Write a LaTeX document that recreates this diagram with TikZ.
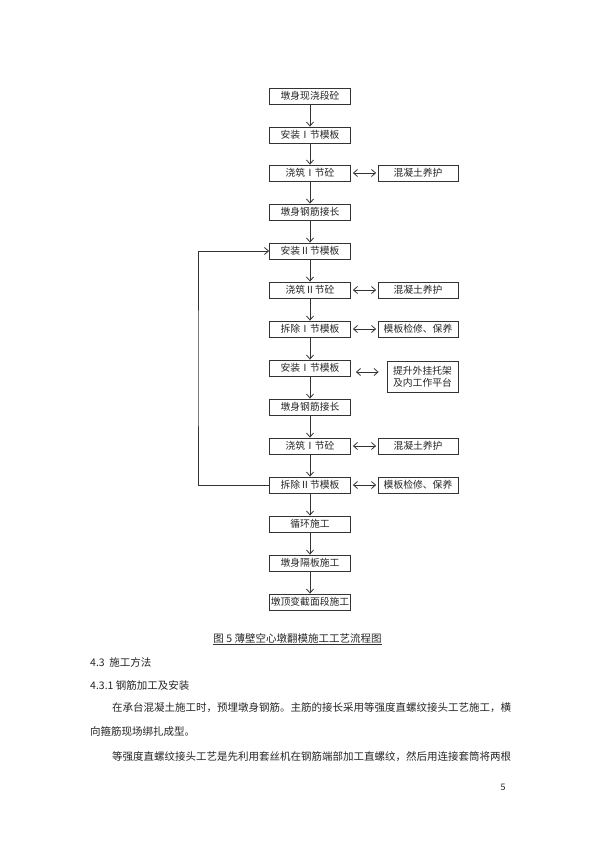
\documentclass[tikz,border=0pt]{standalone}
\usepackage{fontspec}
\newfontfamily\cjk{Noto Sans CJK SC}
\usetikzlibrary{arrows.meta}
\begin{document}
\begin{tikzpicture}[x=1pt,y=-1pt,
  box/.style={draw=black!80, line width=0.8pt, minimum width=81pt, minimum height=16pt, inner sep=0pt, font=\cjk\fontsize{9.8}{12}\selectfont, text=black!85},
  sbox/.style={box, minimum width=80pt},
  flow/.style={draw=black!80, line width=0.8pt, -{Straight Barb[length=4pt,width=7pt]}},
  both/.style={draw=black!80, line width=0.8pt, {Straight Barb[length=4pt,width=7pt]}-{Straight Barb[length=4pt,width=7pt]}},
  txt/.style={font=\cjk\fontsize{10.5}{12}\selectfont, anchor=west, inner sep=0pt, text=black!85}]
\useasboundingbox (0,0) rectangle (595,842);
\fill[white] (0,0) rectangle (595,842);

% main column
\node[box] (a1) at (310,96) {墩身现浇段砼};
\node[box] (a2) at (310,135) {安装Ⅰ节模板};
\node[box] (a3) at (310,173) {浇筑Ⅰ节砼};
\node[box] (a4) at (310,212) {墩身钢筋接长};
\node[box] (a5) at (310,251) {安装Ⅱ节模板};
\node[box] (a6) at (310,290) {浇筑Ⅱ节砼};
\node[box] (a7) at (310,329) {拆除Ⅰ节模板};
\node[box] (a8) at (310,368) {安装Ⅰ节模板};
\node[box] (a9) at (310,407) {墩身钢筋接长};
\node[box] (a10) at (310,446) {浇筑Ⅰ节砼};
\node[box] (a11) at (310,485) {拆除Ⅱ节模板};
\node[box] (a12) at (310,524) {循环施工};
\node[box] (a13) at (310,563) {墩身隔板施工};
\node[box] (a14) at (310,602) {墩顶变截面段施工};

% side boxes
\node[sbox] (r1) at (418,173) {混凝土养护};
\node[sbox] (r2) at (418,290) {混凝土养护};
\node[sbox] (r3) at (418,329) {模板检修、保养};
\node[sbox, minimum width=71pt, minimum height=31pt, align=center] (r4) at (422.5,376.5) {提升外挂托架\\及内工作平台};
\node[sbox] (r5) at (418,446) {混凝土养护};
\node[sbox] (r6) at (418,485) {模板检修、保养};

% vertical flow
\foreach \i/\j in {a1/a2,a2/a3,a3/a4,a4/a5,a5/a6,a6/a7,a7/a8,a8/a9,a9/a10,a10/a11,a11/a12,a12/a13,a13/a14}
  \draw[flow] (\i.south) -- (\j.north);

% side arrows
\foreach \i/\j in {a3/r1,a6/r2,a7/r3,a10/r5,a11/r6}
  \draw[both, shorten <=2pt, shorten >=1.5pt] (\i.east) -- (\j.west);
\draw[both, shorten <=5pt, shorten >=8pt] (a8.east |- 0,372) -- (r4.west |- 0,372);

% loop back
\coordinate (lp) at (198,368);
\draw[flow] (a11.west) -| (lp) |- (a5.west);

% caption
\node[font=\cjk\fontsize{10.5}{12}\selectfont, inner sep=0pt, text=black!85] (cap) at (297.5,638) {图 5 薄壁空心墩翻模施工工艺流程图};
\draw[line width=0.5pt, black!80] (cap.west |- 0,644) -- (cap.east |- 0,644);

% body text
\node[txt] (t1) at (90,662) {4.3\ \ 施工方法};
\node[txt] (t2) at (90,686) {4.3.1 钢筋加工及安装};
\node[txt] (t3) at (112,708) {在承台混凝土施工时，预埋墩身钢筋。主筋的接长采用等强度直螺纹接头工艺施工，横};
\node[txt] (t4) at (90,732) {向箍筋现场绑扎成型。};
\node[txt] (t5) at (112,757) {等强度直螺纹接头工艺是先利用套丝机在钢筋端部加工直螺纹，然后用连接套筒将两根};
\node[font=\cjk\fontsize{9}{10}\selectfont, inner sep=0pt, text=black!85] (pg) at (503,787) {5};
\end{tikzpicture}
\end{document}
